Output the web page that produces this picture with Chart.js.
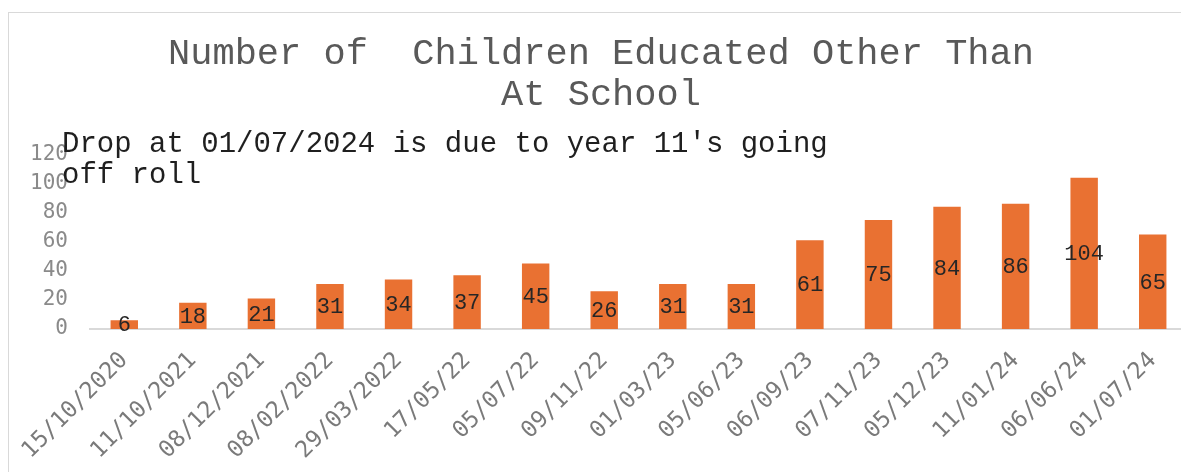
<!DOCTYPE html>
<html>
<head>
<meta charset="utf-8">
<script src="https://cdn.jsdelivr.net/npm/chart.js@4.4.1/dist/chart.umd.min.js"></script>
<style>
  html, body { margin: 0; padding: 0; background: #fff; overflow: hidden; }
  #wrap { position: relative; width: 1190px; height: 472px; }
</style>
</head>
<body>
<div id="wrap"><canvas id="myChart" width="1190" height="472"></canvas></div>
<script>
// dati
var dates = ['15/10/2020', '11/10/2021', '08/12/2021', '08/02/2022', '29/03/2022', '17/05/22', '05/07/22', '09/11/22',
             '01/03/23', '05/06/23', '06/09/23', '07/11/23', '05/12/23', '11/01/24', '06/06/24', '01/07/24'];
var children = [6, 18, 21, 31, 34, 37, 45, 26, 31, 31, 61, 75, 84, 86, 104, 65];
var titleLines = ['Number of  Children Educated Other Than', 'At School'];
var noteLines = ["Drop at 01/07/2024 is due to year 11's going", 'off roll'];
var yMin = 0;
var yMax = 120;
var yStep = 20;

//Plugin per bordo, etichette dei valori e nota
var extras = {
  id: 'extras',
  beforeDraw: function (chart) {
    var ctx = chart.ctx;
    ctx.save();
    ctx.fillStyle = '#ffffff';
    ctx.fillRect(0, 0, chart.width, chart.height);
    ctx.strokeStyle = '#d9d9d9';
    ctx.lineWidth = 1;
    ctx.strokeRect(8.5, 12.5, 2000, 2000);
    ctx.restore();
  },
  afterDatasetsDraw: function (chart) {
    var ctx = chart.ctx;
    var meta = chart.getDatasetMeta(0);
    ctx.save();
    ctx.font = '22px "Liberation Mono"';
    ctx.fillStyle = '#262626';
    ctx.textAlign = 'center';
    ctx.textBaseline = 'middle';
    for (var i = 0; i < meta.data.length; i++) {
      var bar = meta.data[i];
      ctx.fillText(String(children[i]), bar.x, (bar.y + bar.base) / 2 + 1);
    }
    ctx.restore();
  },
  afterDraw: function (chart) {
    var ctx = chart.ctx;
    ctx.save();
    ctx.font = '29px "Liberation Mono"';
    ctx.fillStyle = '#1f1f1f';
    ctx.textAlign = 'left';
    ctx.textBaseline = 'alphabetic';
    for (var i = 0; i < noteLines.length; i++) {
      ctx.fillText(noteLines[i], 62, 152 + i * 31);
    }
    ctx.restore();
  }
};

var ctx = document.getElementById('myChart').getContext('2d');
var chart = new Chart(ctx, {
  type: 'bar',
  data: {
    labels: dates,
    datasets: [{
      label: 'Children EOTAS',
      backgroundColor: '#e97132',
      borderWidth: 0,
      categoryPercentage: 1,
      barPercentage: 0.4,
      data: children
    }]
  },
  options: {
    responsive: false,
    animation: false,
    devicePixelRatio: 1,
    layout: { padding: { left: 15, right: 3, top: 0, bottom: 0 } },
    plugins: {
      legend: { display: false },
      tooltip: { enabled: false },
      title: {
        display: true,
        text: titleLines,
        color: '#595959',
        font: { family: 'Liberation Mono', size: 37, weight: 'normal', lineHeight: 1.1 },
        padding: { top: 34, bottom: 39 }
      }
    },
    scales: {
      x: {
        grid: { display: false },
        border: { display: true, color: '#d9d9d9', width: 2 },
        ticks: {
          color: '#7a7a7a',
          font: { family: 'DejaVu Sans Mono', size: 23 },
          minRotation: 45,
          maxRotation: 45,
          padding: 10,
          autoSkip: false
        },
        afterFit: function (axis) { axis.height = 143; }
      },
      y: {
        min: yMin,
        max: yMax,
        grid: { display: false, drawTicks: false },
        border: { display: false },
        ticks: {
          stepSize: yStep,
          color: '#8a8a8a',
          font: { family: 'DejaVu Sans Mono', size: 21 },
          padding: 22
        },
        afterFit: function (axis) { axis.width = 75; }
      }
    }
  },
  plugins: [extras]
});
</script>
</body>
</html>
